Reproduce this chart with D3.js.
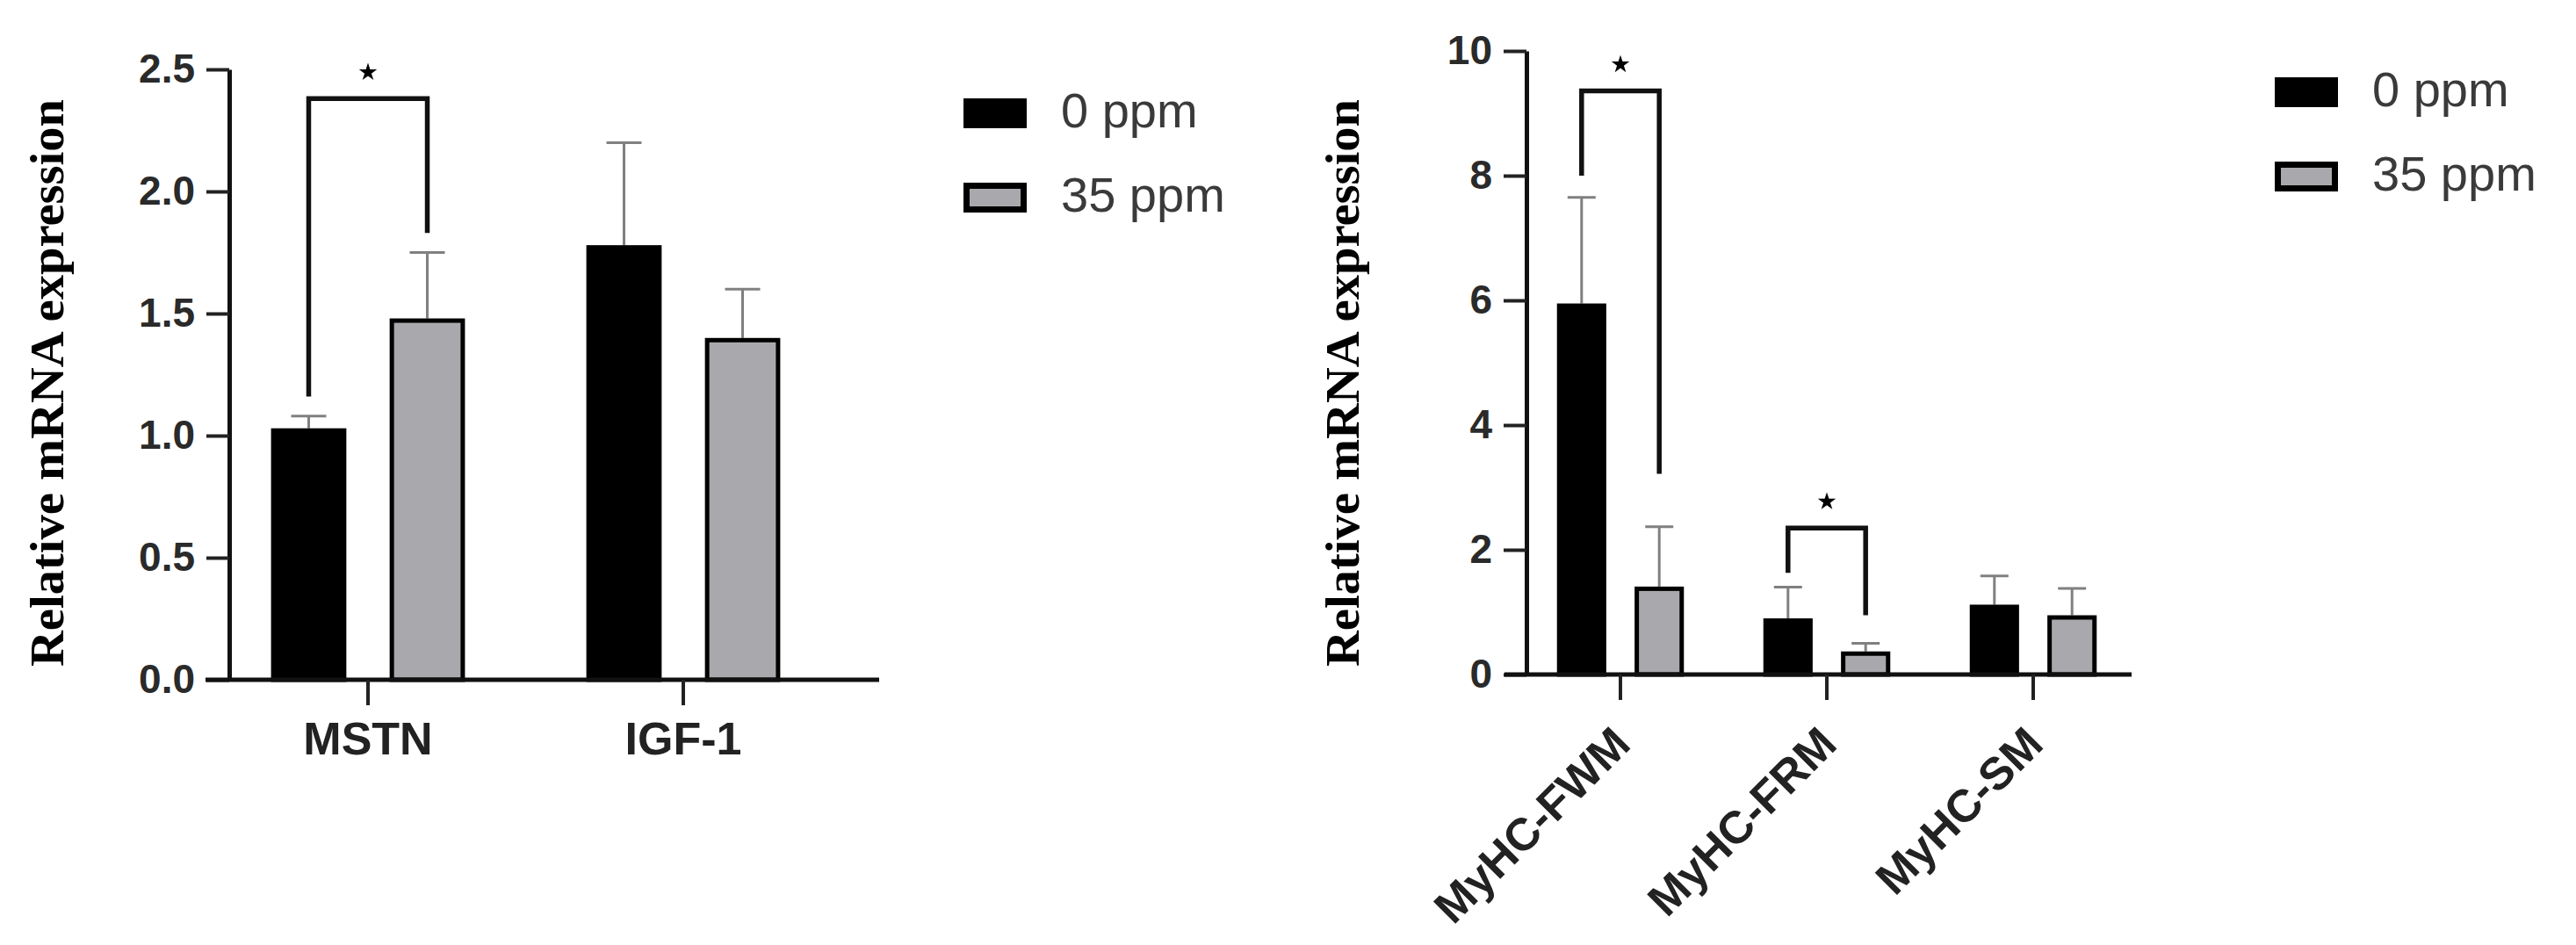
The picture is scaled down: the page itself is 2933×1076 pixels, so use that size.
<!DOCTYPE html>
<html lang="en">
<head>
<meta charset="UTF-8">
<title>Relative mRNA expression</title>
<style>
  body { margin: 0; background: #fff; }
  svg { display: block; }
</style>
</head>
<body>
<div id="chart"></div>
<script src="https://d3js.org/d3.v7.min.js"></script>
<script>
// groups (legend)
const groups = ["0 ppm", "35 ppm"];

// left panel: MSTN / IGF-1
const leftGenes = ["MSTN", "IGF-1"];
const leftMean0 = [1.03, 1.78];
const leftMean35 = [1.48, 1.40];
const leftErr0 = [0.05, 0.42];
const leftErr35 = [0.27, 0.20];
const leftTicks = [0, 0.5, 1.0, 1.5, 2.0, 2.5];
const leftSig = [{gene: "MSTN", from: 1.16, to: 1.83, top: 2.38}];

// right panel: MyHC isoforms
const rightGenes = ["MyHC-FWM", "MyHC-FRM", "MyHC-SM"];
const rightMean0 = [5.95, 0.90, 1.12];
const rightMean35 = [1.41, 0.37, 0.95];
const rightErr0 = [1.70, 0.50, 0.46];
const rightErr35 = [0.96, 0.13, 0.43];
const rightTicks = [0, 2, 4, 6, 8, 10];
const rightSig = [
  {gene: "MyHC-FWM", from: 8.0, to: 3.22, top: 9.36},
  {gene: "MyHC-FRM", from: 1.63, to: 0.95, top: 2.35}
];

const W = 2933, H = 1076;
const SANS = "'Liberation Sans', Arial, sans-serif";
const SERIF = "'Liberation Serif', 'Times New Roman', serif";
const fills = ["#000000", "#a9a9ad"];

const svg = d3.select("#chart").append("svg")
  .attr("width", W).attr("height", H)
  .style("background", "#fff");

function drawPanel(p) {
  const g = svg.append("g");

  const y = d3.scaleLinear().domain(p.yDomain).range(p.yRange);
  const x = d3.scaleBand().domain(p.genes).range(p.xRange).paddingInner(0).paddingOuter(0);
  const half = x.step() * 0.3075;
  const xs = d3.scaleBand().domain(groups).range([-half, half]).paddingInner(0.365);

  const rows = [];
  p.genes.forEach((gene, i) => {
    rows.push({gene: gene, grp: groups[0], v: p.mean0[i], e: p.err0[i], k: 0});
    rows.push({gene: gene, grp: groups[1], v: p.mean35[i], e: p.err35[i], k: 1});
  });
  const cx = d => x(d.gene) + x.bandwidth() / 2 + xs(d.grp) + xs.bandwidth() / 2;

  // error bars (upper only), drawn behind the bars
  const eb = g.append("g").attr("stroke", "#808080").attr("stroke-width", 3);
  eb.selectAll("line.v").data(rows).enter().append("line")
    .attr("x1", cx).attr("x2", cx)
    .attr("y1", d => y(d.v)).attr("y2", d => y(d.v + d.e));
  eb.selectAll("line.c").data(rows).enter().append("line")
    .attr("x1", d => cx(d) - p.cap / 2).attr("x2", d => cx(d) + p.cap / 2)
    .attr("y1", d => y(d.v + d.e)).attr("y2", d => y(d.v + d.e));

  // bars
  const sw = 5;
  g.append("g").selectAll("rect").data(rows).enter().append("rect")
    .attr("x", d => cx(d) - xs.bandwidth() / 2 + sw / 2)
    .attr("width", xs.bandwidth() - sw)
    .attr("y", d => y(d.v) + sw / 2)
    .attr("height", d => y(0) - y(d.v) - sw / 2)
    .attr("fill", d => fills[d.k])
    .attr("stroke", "#000").attr("stroke-width", sw);

  // y axis
  const ya = g.append("g")
    .attr("transform", "translate(" + p.yAxisX + ",0)")
    .call(d3.axisLeft(y).tickValues(p.ticks).tickFormat(p.fmt)
      .tickSize(26).tickSizeOuter(0).tickPadding(13));
  ya.select(".domain").attr("stroke-width", 5).attr("stroke", "#111");
  ya.selectAll(".tick line").attr("stroke-width", 4).attr("stroke", "#222");
  ya.selectAll(".tick text")
    .attr("font-family", SANS).attr("font-weight", "bold")
    .attr("font-size", 46).attr("fill", "#2a2a2a");

  // x axis line
  g.append("line")
    .attr("x1", p.xLine[0]).attr("x2", p.xLine[1])
    .attr("y1", y(0)).attr("y2", y(0))
    .attr("stroke", "#111").attr("stroke-width", 5);

  const xa = g.append("g")
    .attr("transform", "translate(0," + y(0) + ")")
    .call(d3.axisBottom(x).tickSize(29).tickSizeOuter(0).tickPadding(19));
  xa.select(".domain").remove();
  xa.selectAll(".tick line").attr("stroke-width", 4).attr("stroke", "#222");
  xa.selectAll(".tick text")
    .attr("font-family", SANS).attr("font-weight", "bold")
    .attr("font-size", 52).attr("fill", "#222");
  if (p.rotate) {
    xa.selectAll(".tick text")
      .attr("y", null).attr("dy", null)
      .attr("text-anchor", "end")
      .attr("transform", "translate(14,82) rotate(-45)");
  }

  // y axis title
  g.append("text")
    .attr("transform", "translate(" + p.titleX + "," + p.titleY + ") rotate(-90)")
    .attr("text-anchor", "middle")
    .attr("font-family", SERIF).attr("font-weight", "bold")
    .attr("font-size", 54)
    .attr("textLength", 646).attr("lengthAdjust", "spacingAndGlyphs")
    .text("Relative mRNA expression");

  // significance brackets
  const bx0 = gene => x(gene) + x.bandwidth() / 2 + xs(groups[0]) + xs.bandwidth() / 2;
  const bx1 = gene => x(gene) + x.bandwidth() / 2 + xs(groups[1]) + xs.bandwidth() / 2;
  g.append("g").selectAll("path").data(p.sig).enter().append("path")
    .attr("d", d => "M" + bx0(d.gene) + "," + y(d.from) +
      "V" + y(d.top) + "H" + bx1(d.gene) + "V" + y(d.to))
    .attr("fill", "none").attr("stroke", "#111").attr("stroke-width", 5.5);
  g.append("g").selectAll("path").data(p.sig).enter().append("path")
    .attr("d", d3.symbol().type(d3.symbolStar).size(130))
    .attr("transform", d => "translate(" + (bx0(d.gene) + bx1(d.gene)) / 2 + "," + (y(d.top) - 30) + ")")
    .attr("fill", "#000");

  // legend
  const lg = g.append("g").attr("transform", "translate(" + p.legend[0] + "," + p.legend[1] + ")");
  const item = lg.selectAll("g").data(groups).enter().append("g")
    .attr("transform", (d, i) => "translate(0," + i * 96 + ")");
  item.append("rect")
    .attr("x", 3.5).attr("y", 3.5).attr("width", 65).attr("height", 27)
    .attr("fill", (d, i) => fills[i])
    .attr("stroke", "#000").attr("stroke-width", 7);
  item.append("text")
    .attr("x", 111).attr("y", 33)
    .attr("font-family", SANS).attr("font-size", 56).attr("fill", "#3a3a3a")
    .text(d => d);
}

drawPanel({
  genes: leftGenes, mean0: leftMean0, mean35: leftMean35, err0: leftErr0, err35: leftErr35,
  ticks: leftTicks, fmt: d3.format(".1f"), sig: leftSig,
  yDomain: [0, 2.5], yRange: [774, 79],
  xRange: [239.5, 957.5], xLine: [234, 1001], yAxisX: 261,
  cap: 40, rotate: false,
  titleX: 72, titleY: 436,
  legend: [1097, 112]
});

drawPanel({
  genes: rightGenes, mean0: rightMean0, mean35: rightMean35, err0: rightErr0, err35: rightErr35,
  ticks: rightTicks, fmt: d3.format("d"), sig: rightSig,
  yDomain: [0, 10], yRange: [768, 58],
  xRange: [1727.5, 2432.5], xLine: [1713, 2427], yAxisX: 1738,
  cap: 32, rotate: true,
  titleX: 1547, titleY: 436,
  legend: [2590, 88]
});
</script>
</body>
</html>
